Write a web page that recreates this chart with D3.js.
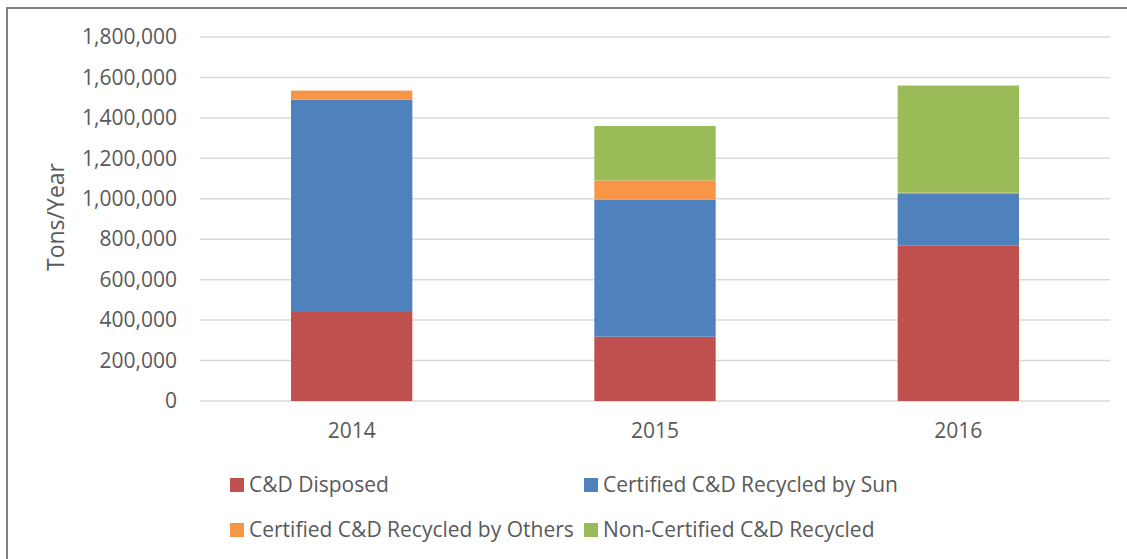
<!DOCTYPE html>
<html lang="en">
<head>
<meta charset="utf-8"/>
<title>C&amp;D tons per year</title>
<script src="https://cdn.jsdelivr.net/npm/d3@7"></script>
<style>
  body { margin: 0; background: #fff; }
  svg text { font-family: "Open Sans", "Liberation Sans", sans-serif; fill: #595959; }
</style>
</head>
<body>
<svg id="chart"></svg>
<script>
const width = 1127
const height = 559

// chart data
const years = ['2014', '2015', '2016']
const seriesNames = ['C&D Disposed', 'Certified C&D Recycled by Sun', 'Certified C&D Recycled by Others', 'Non-Certified C&D Recycled']
const disposed = [440000, 318000, 770000]
const recycledSun = [1050000, 677000, 257000]
const recycledOthers = [45000, 96000, 3000]
const nonCertified = [0, 269000, 530000]
const yTicks = [0, 200000, 400000, 600000, 800000, 1000000, 1200000, 1400000, 1600000, 1800000]
const colors = ['#C0504D', '#4F81BD', '#F79646', '#9BBB59']

const rows = years.map((y, i) => ({
  year: y,
  [seriesNames[0]]: disposed[i],
  [seriesNames[1]]: recycledSun[i],
  [seriesNames[2]]: recycledOthers[i],
  [seriesNames[3]]: nonCertified[i]
}))

const svg = d3.select('#chart')
  .attr('width', width)
  .attr('height', height)

// outer frame
svg.append('rect')
  .attr('x', 7).attr('y', 8)
  .attr('width', width + 20).attr('height', height + 20)
  .attr('fill', 'none')
  .attr('stroke', '#808080')
  .attr('stroke-width', 2)

const x = d3.scaleBand()
  .domain(years)
  .range([200, 1110])
  .paddingInner(0.6)
  .paddingOuter(0.3)

const y = d3.scaleLinear()
  .domain([0, 1800000])
  .range([401, 37])

// gridlines
svg.append('g')
  .selectAll('line')
  .data(yTicks)
  .enter()
  .append('line')
  .attr('x1', 200).attr('x2', 1110)
  .attr('y1', d => y(d)).attr('y2', d => y(d))
  .attr('stroke', '#D9D9D9')
  .attr('stroke-width', 1.5)

// y axis labels
const yAxis = svg.append('g')
  .attr('transform', 'translate(177,0)')
  .call(d3.axisLeft(y).tickValues(yTicks).tickSize(0).tickPadding(0).tickFormat(d3.format(',')))
yAxis.select('.domain').remove()
yAxis.selectAll('text').attr('font-size', 21).style('font-family', null)

svg.append('text')
  .attr('transform', 'translate(64,217) rotate(-90)')
  .attr('text-anchor', 'middle')
  .attr('font-size', 23)
  .text('Tons/Year')

// stacked bars
const stack = d3.stack().keys(seriesNames)
const layers = stack(rows)

svg.append('g')
  .selectAll('g')
  .data(layers)
  .enter()
  .append('g')
  .attr('fill', (d, i) => colors[i])
  .selectAll('rect')
  .data(d => d)
  .enter()
  .append('rect')
  .attr('x', d => x(d.data.year))
  .attr('width', x.bandwidth())
  .attr('y', d => y(d[1]))
  .attr('height', d => y(d[0]) - y(d[1]))

// x axis labels
const xAxis = svg.append('g')
  .attr('transform', 'translate(0,423)')
  .call(d3.axisBottom(x).tickSize(0).tickPadding(0))
xAxis.select('.domain').remove()
xAxis.selectAll('text').attr('font-size', 21).style('font-family', null)

// legend
const legendPos = [[230, 485], [584, 485], [230, 530], [584, 530]]
const legend = svg.append('g')
  .selectAll('g')
  .data(seriesNames)
  .enter()
  .append('g')
  .attr('transform', (d, i) => `translate(${legendPos[i][0]},${legendPos[i][1]})`)

legend.append('rect')
  .attr('x', 0).attr('y', -7)
  .attr('width', 14).attr('height', 14)
  .attr('fill', (d, i) => colors[i])

legend.append('text')
  .attr('x', 19)
  .attr('dy', '0.35em')
  .attr('font-size', 21)
  .text(d => d)
</script>
</body>
</html>
